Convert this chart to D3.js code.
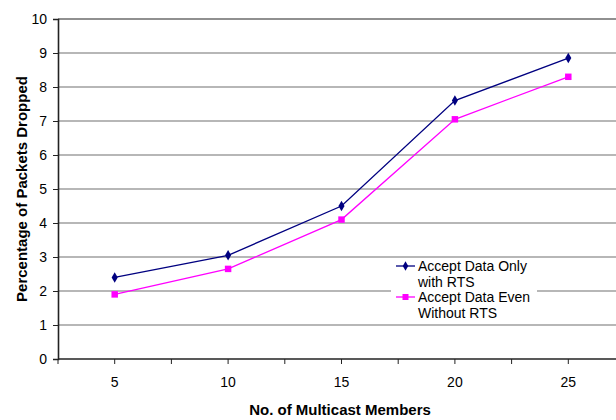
<!DOCTYPE html>
<html>
<head>
<meta charset="utf-8">
<script src="https://cdn.jsdelivr.net/npm/d3@7"></script>
<style>
  html, body { margin: 0; padding: 0; background: #fff; }
  svg { display: block; font-family: "Liberation Sans", Arial, sans-serif; }
  svg text { font-family: "Liberation Sans", Arial, sans-serif; }
</style>
</head>
<body>
<svg id="chart" width="616" height="420"></svg>
<script>
// Multicast packet-drop results
const members = [5, 10, 15, 20, 25];
const onlyWithRTS = [2.4, 3.05, 4.5, 7.6, 8.85];
const evenWithoutRTS = [1.9, 2.65, 4.1, 7.05, 8.3];
const yTicks = [0, 1, 2, 3, 4, 5, 6, 7, 8, 9, 10];
const seriesNames = ["Accept Data Only\nwith RTS", "Accept Data Even\nWithout RTS"];
const seriesColors = ["#000080", "#FF00FF"];

const svg = d3.select("#chart");
const plotLeft = 58, plotTop = 19, plotBottom = 359, plotRight = 625;
const FONT = "'Liberation Sans', Arial, sans-serif";

const x = d3.scaleBand().domain(members).range([plotLeft, plotRight]).paddingInner(0).paddingOuter(0);
const y = d3.scaleLinear().domain([0, 10]).range([plotBottom, plotTop]);

// horizontal gridlines
svg.append("g").selectAll("line").data(yTicks.filter(d => d > 0)).join("line")
  .attr("x1", plotLeft).attr("x2", 616)
  .attr("y1", d => y(d)).attr("y2", d => y(d))
  .attr("stroke", d => d === 10 ? "#222" : "#707070").attr("stroke-width", 1.2);

// y axis
const yAxis = svg.append("g").attr("transform", `translate(${plotLeft},0)`)
  .call(d3.axisLeft(y).tickValues(yTicks).tickSize(5).tickPadding(6));
yAxis.select(".domain").attr("stroke", "#222").attr("stroke-width", 1.6);
yAxis.selectAll(".tick line").attr("stroke", "#222");
yAxis.selectAll("text").attr("font-size", 14).attr("fill", "#000").attr("font-family", FONT);

// x axis: labels at category centres, tick marks every half-category
const xAxis = svg.append("g").attr("transform", `translate(0,${plotBottom})`)
  .call(d3.axisBottom(x).tickSize(0).tickPadding(18));
xAxis.select(".domain").remove();
xAxis.selectAll("text").attr("font-size", 14).attr("fill", "#000").attr("font-family", FONT);
const half = x.bandwidth() / 2;
const tickXs = d3.range(0, members.length * 2).map(i => plotLeft + i * half);
svg.append("line").attr("x1", plotLeft).attr("x2", 616).attr("y1", plotBottom).attr("y2", plotBottom)
  .attr("stroke", "#222").attr("stroke-width", 1.6);
svg.append("g").selectAll("line").data(tickXs).join("line")
  .attr("x1", d => d).attr("x2", d => d).attr("y1", plotBottom).attr("y2", plotBottom + 5)
  .attr("stroke", "#222");

// series lines and markers
const line = d3.line().x((d, i) => x(members[i]) + half).y(d => y(d));
const symType = [d3.symbolDiamond, d3.symbolSquare];
const symSize = [32, 42];
[onlyWithRTS, evenWithoutRTS].forEach((vals, si) => {
  svg.append("path").datum(vals).attr("d", line)
    .attr("fill", "none").attr("stroke", seriesColors[si]).attr("stroke-width", 1.3);
  svg.append("g").selectAll("path").data(vals).join("path")
    .attr("transform", (d, i) => `translate(${x(members[i]) + half},${y(d)})`)
    .attr("d", d3.symbol().type(symType[si]).size(symSize[si]))
    .attr("fill", seriesColors[si]);
});

// legend
const lg = svg.append("g");
lg.append("rect").attr("x", 391).attr("y", 258).attr("width", 146).attr("height", 65).attr("fill", "#fff");
seriesNames.forEach((name, si) => {
  const yy = 266 + si * 31;
  lg.append("line").attr("x1", 396).attr("x2", 415).attr("y1", yy).attr("y2", yy)
    .attr("stroke", seriesColors[si]).attr("stroke-width", 1.3);
  lg.append("path").attr("transform", `translate(405.5,${yy})`)
    .attr("d", d3.symbol().type(symType[si]).size(symSize[si] - 6))
    .attr("fill", seriesColors[si]);
  name.split("\n").forEach((ln, li) => {
    lg.append("text").attr("x", 418).attr("y", yy + 5 + li * 15.5)
      .attr("font-size", 14).attr("font-family", FONT).attr("fill", "#000").text(ln);
  });
});

// axis titles
svg.append("text").attr("x", 340).attr("y", 415).attr("text-anchor", "middle")
  .attr("font-size", 15).attr("font-weight", "bold").attr("font-family", FONT)
  .text("No. of Multicast Members");
svg.append("text").attr("transform", "translate(27,189) rotate(-90)").attr("text-anchor", "middle")
  .attr("font-size", 15).attr("font-weight", "bold").attr("font-family", FONT)
  .text("Percentage of Packets Dropped");
</script>
</body>
</html>
